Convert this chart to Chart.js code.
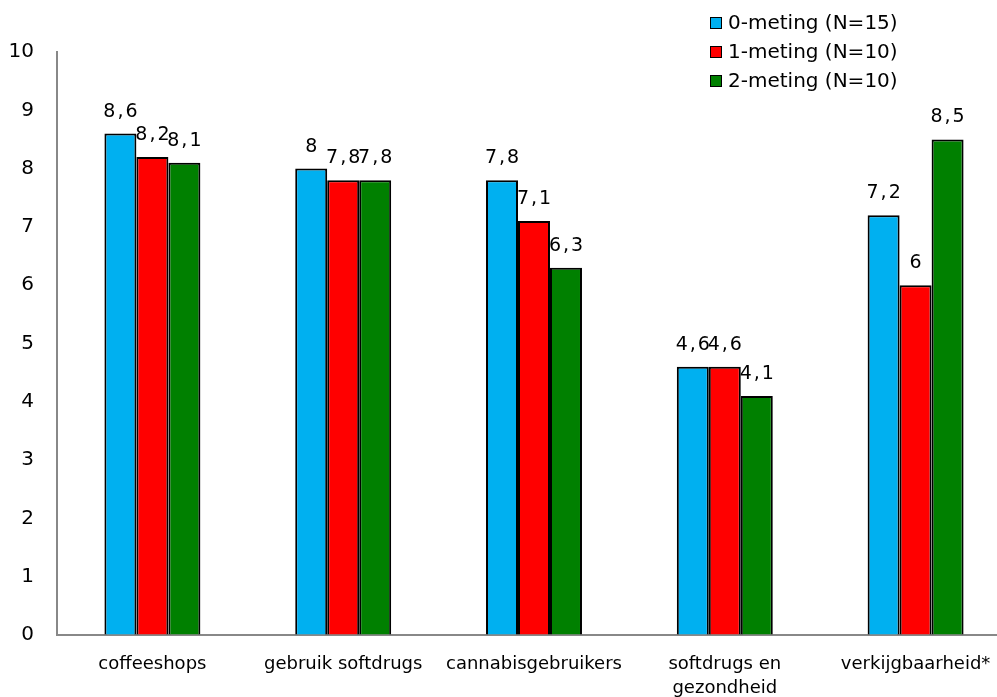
<!DOCTYPE html>
<html>
<head>
<meta charset="utf-8">
<script src="https://cdn.jsdelivr.net/npm/chart.js@4/dist/chart.umd.min.js"></script>
<style>
  html, body { margin: 0; padding: 0; background: #fff; overflow: hidden; }
  #wrap { width: 997px; height: 697px; overflow: hidden; }
  canvas { display: block; }
</style>
</head>
<body>
<div id="wrap"><canvas id="c" width="1015" height="697"></canvas></div>
<script>
// Rapportcijfers per thema, per meting
const categories = [
  'coffeeshops',
  'gebruik softdrugs',
  'cannabisgebruikers',
  ['softdrugs en', 'gezondheid'],
  'verkijgbaarheid*'
];
const seriesNames = ['0-meting (N=15)', '1-meting (N=10)', '2-meting (N=10)'];
const meting0 = [8.6, 8.0, 7.8, 4.6, 7.2];
const meting1 = [8.2, 7.8, 7.1, 4.6, 6.0];
const meting2 = [8.1, 7.8, 6.3, 4.1, 8.5];
const yTicks = [0, 1, 2, 3, 4, 5, 6, 7, 8, 9, 10];

const colors = ['#00B0F0', '#FF0000', '#008000'];
const sans = "'DejaVu Sans', Verdana, sans-serif";

// Waarde boven elke staaf, met komma als decimaalteken
const valueLabels = {
  id: 'valueLabels',
  afterDatasetsDraw(chart) {
    const ctx = chart.ctx;
    const spacing = 2;
    ctx.save();
    ctx.font = '19px ' + sans;
    ctx.letterSpacing = spacing + 'px';
    ctx.fillStyle = '#000';
    ctx.textAlign = 'center';
    ctx.textBaseline = 'alphabetic';
    chart.data.datasets.forEach((ds, i) => {
      const meta = chart.getDatasetMeta(i);
      meta.data.forEach((bar, j) => {
        const txt = String(ds.data[j]).replace('.', ',');
        ctx.fillText(txt, bar.x + spacing / 2, bar.y - 17);
      });
    });
    ctx.restore();
  }
};

// Legenda rechtsboven, onder elkaar
const stackedLegend = {
  id: 'stackedLegend',
  afterDraw(chart) {
    const ctx = chart.ctx;
    const rows = [23, 52, 81];
    ctx.save();
    ctx.font = '20px ' + sans;
    ctx.textBaseline = 'middle';
    ctx.textAlign = 'left';
    chart.data.datasets.forEach((ds, i) => {
      const y = rows[i];
      ctx.fillStyle = ds.backgroundColor;
      ctx.fillRect(710, y - 6, 12, 12);
      ctx.strokeStyle = '#000';
      ctx.lineWidth = 1;
      ctx.strokeRect(710.5, y - 5.5, 11, 11);
      ctx.fillStyle = '#000';
      ctx.fillText(ds.label, 728, y + 1);
    });
    ctx.restore();
  }
};

new Chart(document.getElementById('c'), {
  type: 'bar',
  data: {
    labels: categories,
    datasets: [meting0, meting1, meting2].map((d, i) => ({
      label: seriesNames[i],
      data: d,
      backgroundColor: colors[i],
      borderColor: '#000',
      borderWidth: 2,
      categoryPercentage: 0.503,
      barPercentage: 1
    }))
  },
  options: {
    responsive: false,
    devicePixelRatio: 1,
    animation: false,
    layout: { padding: { top: 52, right: 4, left: 0, bottom: 0 } },
    plugins: {
      legend: { display: false },
      tooltip: { enabled: false }
    },
    scales: {
      x: {
        grid: { drawOnChartArea: false, drawTicks: false },
        border: { display: true, color: '#888', width: 2 },
        ticks: {
          color: '#000',
          padding: 17,
          maxRotation: 0,
          autoSkip: false,
          font: { family: sans, size: 18, lineHeight: 1.35 }
        },
        afterFit(s) { s.height = 62; }
      },
      y: {
        min: 0,
        max: 10,
        afterBuildTicks(s) { s.ticks = yTicks.map(v => ({ value: v })); },
        grid: { drawOnChartArea: false, drawTicks: false },
        border: { display: true, color: '#888', width: 2 },
        ticks: {
          color: '#000',
          padding: 23,
          font: { family: sans, size: 20 }
        },
        afterFit(s) { s.width = 57; }
      }
    }
  },
  plugins: [valueLabels, stackedLegend]
});
</script>
</body>
</html>
